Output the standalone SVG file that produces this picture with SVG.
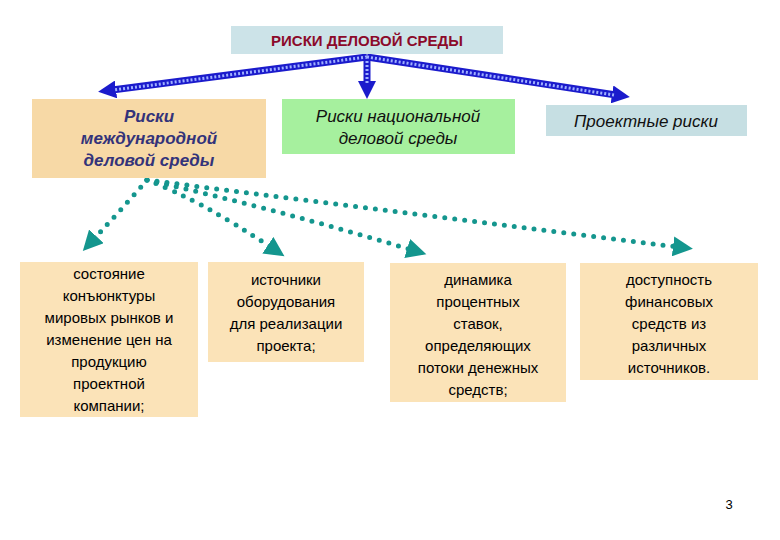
<svg xmlns="http://www.w3.org/2000/svg" width="780" height="540" viewBox="0 0 780 540">
<style>
text{font-family:"Liberation Sans",Arial,sans-serif;}
.b{font-size:15px;fill:#000;text-anchor:middle}
.i{font-style:italic;font-size:17px;text-anchor:middle}
.bl{fill:none;stroke:#1b1bcc;stroke-width:7}
.bw{fill:none;stroke:#9fb0ff;stroke-width:3;stroke-dasharray:2 2}
.dt{fill:none;stroke:#14968e;stroke-width:5;stroke-linecap:round;stroke-dasharray:0 10}
.bx{fill:#fbe3b8}
</style>
<defs>
<marker id="ba" markerWidth="18" markerHeight="18" refX="4" refY="9" orient="auto" markerUnits="userSpaceOnUse"><path d="M0,0 L18,9 L0,18Z" fill="#1b1bcc"/></marker>
<marker id="ta" markerWidth="22" markerHeight="20" refX="5" refY="10" orient="auto" markerUnits="userSpaceOnUse"><path d="M0,0 L20,10 L0,20Z" fill="#14968e"/></marker>
</defs>
<g id="connectors">
<path class="bl" d="M367,57 L112,90" marker-end="url(#ba)"/><path class="bw" d="M367,57 L114,90"/>
<path class="bl" d="M367,57 L367,85" marker-end="url(#ba)"/><path class="bw" d="M367,57 L367,84"/>
<path class="bl" d="M367,57 L616,95" marker-end="url(#ba)"/><path class="bw" d="M367,57 L614,95"/>
<path class="dt" d="M147,180 Q130,200 93,240" marker-end="url(#ta)"/>
<path class="dt" d="M147,180 Q200,200 272,248" marker-end="url(#ta)"/>
<path class="dt" d="M147,180 Q280,210 412,250" marker-end="url(#ta)"/>
<path class="dt" d="M147,180 Q420,215 678,247" marker-end="url(#ta)"/>
</g>
<g id="title"><rect x="231" y="26" width="272" height="28" fill="#cce3e8"/><text x="367" y="46" font-size="15" font-weight="bold" fill="#8b0a2a" text-anchor="middle">РИСКИ ДЕЛОВОЙ СРЕДЫ</text></g>
<g id="intl"><rect x="32" y="99" width="234" height="79" fill="#f7d9a6"/><text class="i" font-weight="bold" fill="#33337a"><tspan x="149" y="122">Риски</tspan><tspan x="149" y="144">международной</tspan><tspan x="149" y="166">деловой среды</tspan></text></g>
<g id="natl"><rect x="282" y="99" width="233" height="55" fill="#a6f09e"/><text class="i" fill="#111"><tspan x="398" y="122">Риски национальной</tspan><tspan x="398" y="144">деловой среды</tspan></text></g>
<g id="proj"><rect x="546" y="105" width="201" height="31" fill="#c6dfe3"/><text class="i" fill="#111" x="646" y="127">Проектные риски</text></g>
<g id="n1"><rect class="bx" x="20" y="262" width="178" height="155"/><text class="b"><tspan x="109" y="279">состояние</tspan><tspan x="109" y="301">конъюнктуры</tspan><tspan x="109" y="323">мировых рынков и</tspan><tspan x="109" y="345">изменение цен на</tspan><tspan x="109" y="367">продукцию</tspan><tspan x="109" y="389">проектной</tspan><tspan x="109" y="411">компании;</tspan></text></g>
<g id="n2"><rect class="bx" x="208" y="262" width="156" height="100"/><text class="b"><tspan x="286" y="285">источники</tspan><tspan x="286" y="307">оборудования</tspan><tspan x="286" y="329">для реализации</tspan><tspan x="286" y="351">проекта;</tspan></text></g>
<g id="n3"><rect class="bx" x="390" y="263" width="176" height="139"/><text class="b"><tspan x="478" y="285">динамика</tspan><tspan x="478" y="307">процентных</tspan><tspan x="478" y="329">ставок,</tspan><tspan x="478" y="351">определяющих</tspan><tspan x="478" y="373">потоки денежных</tspan><tspan x="478" y="395">средств;</tspan></text></g>
<g id="n4"><rect class="bx" x="580" y="263" width="178" height="117"/><text class="b"><tspan x="669" y="285">доступность</tspan><tspan x="669" y="307">финансовых</tspan><tspan x="669" y="329">средств из</tspan><tspan x="669" y="351">различных</tspan><tspan x="669" y="373">источников.</tspan></text></g>
<text x="729" y="509" font-size="13" fill="#000" text-anchor="middle">3</text>
</svg>
